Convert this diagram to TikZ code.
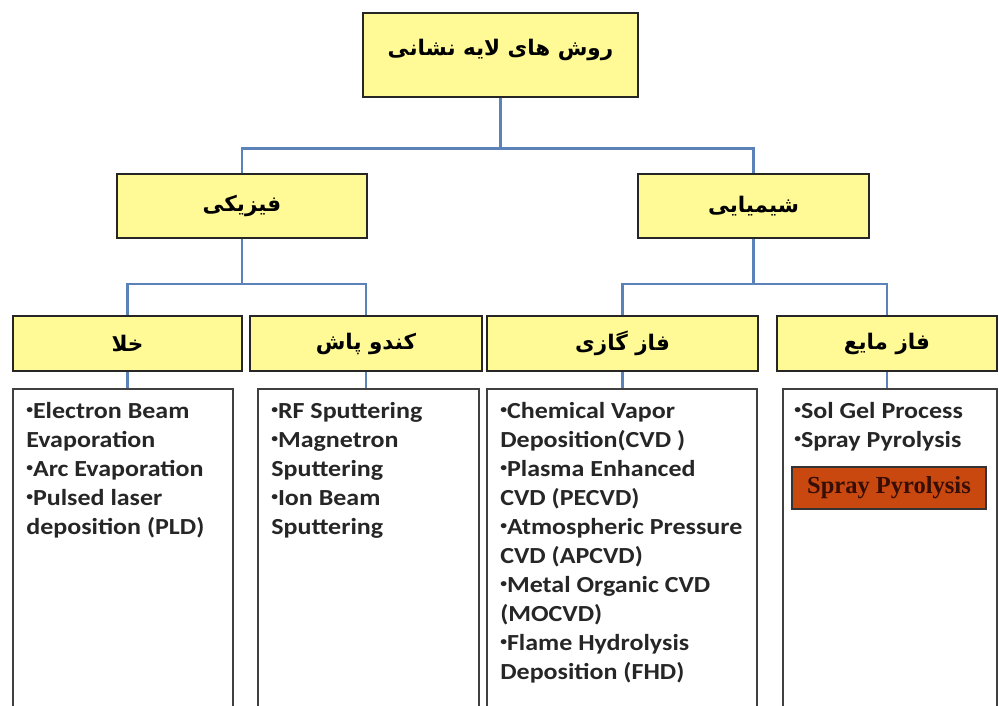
\documentclass[tikz,border=0pt]{standalone}
\usepackage{fontspec}
\setmainfont{Carlito}
\newfontfamily\listfont[FakeStretch=1.13]{Carlito}
\newfontfamily\farsi[Script=Arabic]{DejaVu Sans}
\newfontfamily\sprayfont{Liberation Serif}
\TeXXeTstate=1

\definecolor{boxyellow}{RGB}{255,250,150}
\definecolor{linkblue}{RGB}{92,130,186}
\definecolor{sprayfill}{RGB}{200,72,16}
\definecolor{spraytext}{RGB}{55,14,4}

\newcommand{\fa}[1]{\farsi\beginR #1\endR}
\newcommand{\blt}{\raisebox{0.42ex}{\fontsize{12}{12}\selectfont•}}

\begin{document}
\begin{tikzpicture}[x=1pt,y=-1pt,
  box/.style={rectangle, draw=black!85, fill=boxyellow, line width=1.5pt, inner sep=0pt, font=\farsi\bfseries\fontsize{21.5}{24}\selectfont},
  listbox/.style={rectangle, draw=black!75, line width=1.8pt, minimum height=331pt},
  listtext/.style={anchor=north west, inner sep=0pt, align=left, font=\listfont\bfseries\fontsize{23}{29}\selectfont, text=black!85},
  link/.style={draw=linkblue, line width=2.5pt}
]
\clip (0,0) rectangle (999,706);
\fill[white] (0,0) rectangle (999,706);

% Title and the two families
\node[box, minimum width=275pt, minimum height=84pt, text depth=16pt] (title) at (500.5,55) {\fa{روش های لایه نشانی}};
\node[box, minimum width=250pt, minimum height=64pt] (phys) at (242,206) {\fa{فیزیکی}};
\node[box, minimum width=231pt, minimum height=64pt] (chem) at (753.5,206) {\fa{شیمیایی}};

% Sub groups
\node[box, minimum width=229pt, minimum height=55pt] (vac) at (127.5,343.5) {\fa{خلا}};
\node[box, minimum width=232pt, minimum height=55pt] (sput) at (366,343.5) {\fa{کندو پاش}};
\node[box, minimum width=271pt, minimum height=55pt] (gas) at (622.5,343.5) {\fa{فاز گازی}};
\node[box, minimum width=220pt, minimum height=55pt] (liq) at (887,343.5) {\fa{فاز مایع}};

% Lists of methods
\node[listbox, minimum width=220pt] (vac-list) at (123,554.5) {};
\node[listbox, minimum width=221pt] (sput-list) at (368.5,554.5) {};
\node[listbox, minimum width=270pt] (gas-list) at (622,554.5) {};
\node[listbox, minimum width=214pt] (liq-list) at (890,554.5) {};

\node[listtext] at ([xshift=14pt,yshift=-14pt]vac-list.north west) {\blt Electron Beam\\Evaporation\\\blt Arc Evaporation\\\blt Pulsed laser\\deposition (PLD)};
\node[listtext] at ([xshift=14pt,yshift=-14pt]sput-list.north west) {\blt RF Sputtering\\\blt Magnetron\\Sputtering\\\blt Ion Beam\\Sputtering};
\node[listtext] at ([xshift=14pt,yshift=-14pt]gas-list.north west) {\blt Chemical Vapor\\Deposition(CVD )\\\blt Plasma Enhanced\\CVD (PECVD)\\\blt Atmospheric Pressure\\CVD (APCVD)\\\blt Metal Organic CVD\\(MOCVD)\\\blt Flame Hydrolysis\\Deposition (FHD)};
\node[listtext] (liq-text) at ([xshift=12pt,yshift=-14pt]liq-list.north west) {\blt Sol Gel Process\\\blt Spray Pyrolysis};

% Highlighted method
\node[rectangle, draw=black!80, line width=1.2pt, fill=sprayfill, minimum width=194pt, minimum height=42pt, inner sep=0pt, text=spraytext, font=\sprayfont\bfseries\fontsize{24.5}{28}\selectfont] (spray) at (889,488) {Spray Pyrolysis\hspace{10pt}};

% Tree links
\draw[link] (title.south) -- ++(0,51) -| (phys.north);
\draw[link] (title.south) -- ++(0,51) -| (chem.north);
\draw[link] (phys.south) -- ++(0,45) -| (vac.north);
\draw[link] (phys.south) -- ++(0,45) -| (sput.north);
\draw[link] (chem.south) -- ++(0,45) -| (gas.north);
\draw[link] (chem.south) -- ++(0,45) -| (liq.north);
\draw[link] (vac.south) -- (vac-list.north -| vac.south);
\draw[link] (sput.south) -- (sput-list.north -| sput.south);
\draw[link] (gas.south) -- (gas-list.north -| gas.south);
\draw[link] (liq.south) -- (liq-list.north -| liq.south);

\end{tikzpicture}
\end{document}
